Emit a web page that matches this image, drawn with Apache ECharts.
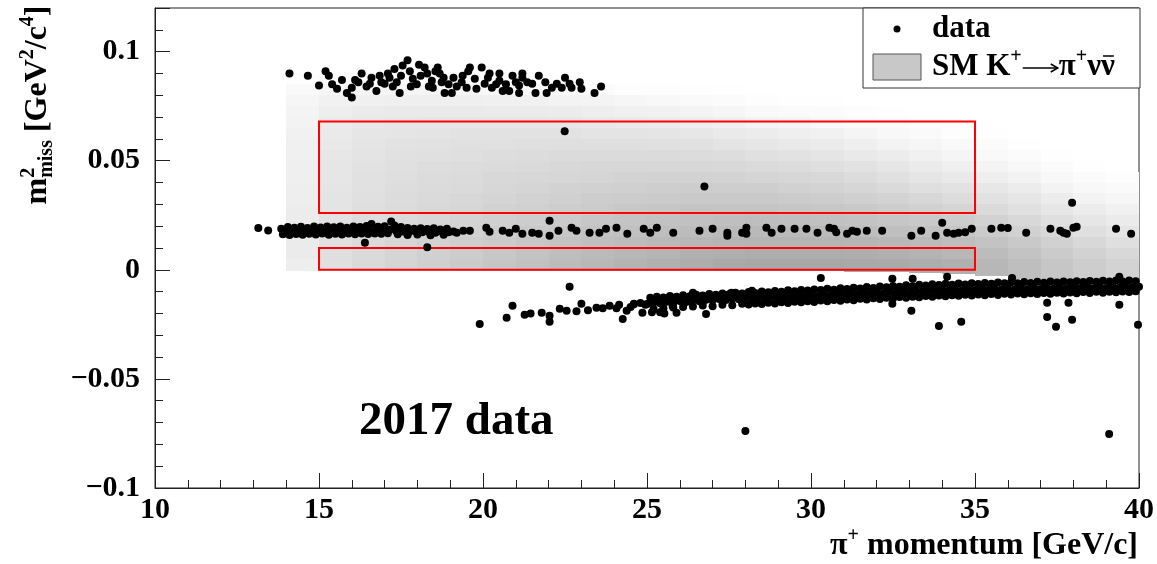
<!DOCTYPE html>
<html>
<head>
<meta charset="utf-8">
<script src="https://cdn.jsdelivr.net/npm/echarts@6/dist/echarts.min.js"></script>
<style>
html,body{margin:0;padding:0;background:#fff;}
#chart{width:1157px;height:564px;}
</style>
</head>
<body>
<div id="chart"></div>
<script>
// ---------- axis setup ----------
const xRange = [10, 40];
const yRange = [-0.1, 0.12];

// ---------- signal regions (xMin, xMax, yMin, yMax) ----------
const signalRegions = [
  [15, 35, 0.0, 0.010],
  [15, 35, 0.026, 0.068]
];

// ---------- SM K+ -> pi+ nu nubar expectation (2D histogram) ----------
// 1 GeV/c momentum bins, lower edges
const histXLow = [14,15,16,17,18,19,20,21,22,23,24,25,26,27,28,29,30,31,32,33,34,35,36,37,38,39];
const histBinWidth = 1;
// lower edge of the populated region in each momentum bin
const histYLow = [-0.0005,-0.0005,-0.0005,-0.0005,-0.0005,-0.0005,-0.0005,-0.0005,-0.0005,-0.0005,-0.0005,-0.0005,-0.0005,-0.0005,-0.0005,-0.0005,-0.0005,-0.001,-0.001,-0.0015,-0.002,-0.003,-0.004,-0.004,-0.0045,-0.005];
// m2miss bin centres (bin height 0.005)
const histYCenters = [0.0025,0.0075,0.0125,0.0175,0.0225,0.0275,0.0325,0.0375,0.0425,0.0475,0.0525,0.0575,0.0625,0.0675,0.0725,0.0775,0.0825,0.0875];
const histYBin = 0.005;
// relative density per momentum bin (rows follow histXLow, columns follow histYCenters)
const histShade = [
  [14,16,16,16,15,15,14,14,13,13,12,12,11,10,9,7,5,2],
  [25,26,25,24,23,22,22,21,20,20,19,18,17,16,14,11,7,3],
  [30,30,29,28,27,26,25,24,24,23,22,21,20,18,16,12,8,3],
  [34,34,33,31,30,29,28,27,26,25,24,23,21,19,17,13,8,3],
  [38,38,36,34,32,31,30,29,28,27,25,24,22,20,17,13,8,3],
  [42,41,39,37,35,33,32,30,29,28,26,25,23,20,17,13,7,2],
  [46,45,42,40,38,36,34,32,31,29,27,25,23,20,16,12,6,2],
  [50,48,45,43,40,38,36,34,32,30,28,26,23,20,16,11,5,1],
  [54,52,48,45,42,40,38,36,33,31,29,26,23,19,15,10,4,1],
  [57,55,51,48,45,42,40,37,34,32,29,26,22,18,14,9,3,0],
  [60,58,54,50,47,44,41,38,35,32,29,26,22,17,12,7,2,0],
  [63,60,56,52,49,46,42,39,36,32,29,25,21,16,11,6,2,0],
  [66,63,58,54,50,47,43,40,36,32,28,24,19,14,9,4,1,0],
  [68,64,59,55,51,47,43,39,35,31,27,22,17,12,7,3,1,0],
  [70,66,60,56,52,47,43,39,34,30,25,20,15,10,5,2,0,0],
  [70,66,60,55,51,46,42,37,33,28,23,18,13,8,4,1,0,0],
  [70,66,60,55,50,45,40,35,31,26,21,16,11,6,3,1,0,0],
  [69,65,59,53,48,43,38,33,28,23,18,13,8,4,2,0,0,0],
  [68,63,57,51,46,40,35,30,25,20,15,10,6,3,1,0,0,0],
  [66,61,55,49,43,37,32,26,21,16,11,7,4,2,0,0,0,0],
  [63,58,52,46,40,34,28,23,18,13,8,5,2,1,0,0,0,0],
  [58,54,48,42,36,30,24,19,14,9,5,3,1,0,0,0,0,0],
  [52,48,43,37,31,25,20,15,10,6,3,1,0,0,0,0,0,0],
  [46,42,37,31,26,20,15,10,6,3,1,0,0,0,0,0,0,0],
  [40,36,31,26,20,15,10,6,3,1,0,0,0,0,0,0,0,0],
  [35,31,26,21,16,11,7,4,2,0,0,0,0,0,0,0,0,0]
];

// ---------- data events: [pi+ momentum (GeV/c), m2miss (GeV^2/c^4)] ----------
// K+ -> pi+ pi+ pi- region
const dataK3pi = [
  [14.1,0.090],[14.66,0.089],[15.0,0.0845],[15.2,0.091],[15.3,0.089],[15.4,0.085],[15.55,0.083],[15.7,0.087],
  [15.85,0.081],[16.0,0.079],[16.0,0.0835],[16.1,0.087],[16.2,0.086],[16.3,0.090],[16.45,0.084],[16.55,0.0853],
  [16.6,0.088],[16.75,0.082],[16.85,0.089],[16.9,0.086],[17.0,0.0853],[17.1,0.090],[17.15,0.088],[17.25,0.084],
  [17.3,0.092],[17.37,0.086],[17.46,0.081],[17.5,0.089],[17.55,0.0936],[17.7,0.096],[17.77,0.091],[17.8,0.084],
  [17.86,0.0876],[17.98,0.085],[18.05,0.094],[18.1,0.089],[18.22,0.0927],[18.3,0.090],[18.35,0.084],[18.44,0.0867],
  [18.47,0.0835],[18.55,0.091],[18.62,0.0927],[18.68,0.090],[18.74,0.086],[18.8,0.088],[18.83,0.081],[18.95,0.085],
  [19.05,0.081],[19.1,0.088],[19.2,0.084],[19.35,0.086],[19.38,0.089],[19.5,0.0835],[19.55,0.091],[19.6,0.0927],
  [19.75,0.0876],[19.8,0.083],[19.96,0.0927],[20.05,0.0853],[20.15,0.088],[20.2,0.090],[20.27,0.0835],[20.4,0.085],
  [20.5,0.0867],[20.5,0.090],[20.6,0.082],[20.7,0.085],[20.8,0.082],[20.9,0.089],[21.0,0.086],[21.1,0.081],
  [21.1,0.0845],[21.2,0.088],[21.2,0.090],[21.35,0.086],[21.5,0.0853],[21.6,0.081],[21.7,0.089],[21.9,0.086],
  [21.94,0.081],[22.1,0.0835],[22.25,0.0853],[22.4,0.0835],[22.5,0.088],[22.64,0.0853],[22.7,0.0835],[22.95,0.086],
  [23.0,0.083],[23.4,0.081],[23.6,0.084]
];

// K+ -> pi+ pi0 band
const dataK2pi = [
  [13.15,0.0192],[13.45,0.0180],
  [13.85,0.0188],[14.05,0.0196],[14.25,0.0193],[14.45,0.0197],[14.65,0.0192],[14.85,0.0198],[15.05,0.0194],[15.25,0.0199],
  [15.45,0.0195],[15.65,0.0198],[15.85,0.0193],[16.05,0.0199],[16.25,0.0196],[16.45,0.0201],[16.6,0.0210],[16.8,0.0197],
  [17.0,0.0200],[17.2,0.0222],[17.3,0.0203],[17.5,0.0196],[17.7,0.0192],[17.9,0.0188],[18.1,0.0191],[18.3,0.0187],
  [18.5,0.0190],[18.7,0.0185],[18.9,0.0188],
  [13.95,0.0178],[14.15,0.0176],[14.35,0.0180],[14.55,0.0177],[14.75,0.0181],[14.95,0.0178],[15.15,0.0182],[15.35,0.0177],
  [15.55,0.0181],[15.75,0.0178],[15.95,0.0183],[16.15,0.0179],[16.35,0.0182],[16.55,0.0178],[16.75,0.0183],[16.95,0.0180],
  [17.15,0.0184],[17.35,0.0178],[17.55,0.0176],[17.75,0.0173],[17.95,0.0176],[18.15,0.0172],[18.35,0.0175],[18.55,0.0170],
  [18.75,0.0174],[18.95,0.0172],[19.1,0.0176],
  [13.9,0.0163],[14.1,0.0160],[14.3,0.0164],[14.5,0.0161],[14.7,0.0165],[14.9,0.0162],[15.1,0.0166],[15.3,0.0161],
  [15.5,0.0165],[15.7,0.0162],[15.9,0.0166],[16.1,0.0163],[16.3,0.0167],[16.5,0.0164],[16.7,0.0167],[16.9,0.0165],
  [17.1,0.0168],[17.4,0.0163],[17.7,0.0160],[18.0,0.0162],[18.4,0.0159],[18.8,0.0161],
  [16.4,0.0124],[18.3,0.0104],
  [19.2,0.0170],[19.4,0.0179],[19.6,0.0179],[20.1,0.0193],[20.2,0.0175],[20.6,0.0179],[20.8,0.0170],[21.0,0.0188],
  [21.2,0.0165],[21.5,0.0170],[21.7,0.0165],[22.03,0.0225],[22.03,0.0156],[22.3,0.0179],[22.7,0.0193],[22.85,0.0179],
  [23.25,0.0170],[23.55,0.0170],[23.75,0.0188],[24.07,0.0193],[24.4,0.0165],[24.9,0.0188],[25.1,0.0170],[25.3,0.0193],
  [25.8,0.0170],[26.6,0.0179],[27.0,0.0188],[27.45,0.0170],[27.45,0.0156],[27.9,0.0170],[28.03,0.0193],[28.03,0.0165],
  [28.64,0.0193],[28.8,0.0170],[29.1,0.0188],[29.5,0.0188],[29.86,0.0188],[30.2,0.0170],[30.56,0.0193],[30.7,0.0188],
  [30.77,0.0172],[31.1,0.0165],[31.26,0.0179],[31.4,0.0175],[31.7,0.0179],[32.17,0.0179],[33.06,0.0156],[33.36,0.0179],
  [33.8,0.0156],[34.0,0.0216],[34.15,0.0170],[34.35,0.0165],[34.5,0.0170],[34.7,0.0172],[34.9,0.0188],[35.5,0.0188],
  [35.8,0.0193],[36.0,0.0192],[36.56,0.0170],[37.3,0.0188],[37.6,0.0179],[37.7,0.0170],[37.8,0.0165],[38.0,0.0193],
  [38.1,0.0197],[37.96,0.0307],[39.3,0.0188],[39.76,0.0165]
];

// K+ -> mu+ nu band: scattered low-momentum part and dense core
const dataKmu2Tail = [
  [19.9,-0.0248],[20.72,-0.022],[20.9,-0.0165],[21.27,-0.0206],[21.45,-0.0200],[21.79,-0.0197],[22.03,-0.021],[22.03,-0.0238],
  [22.34,-0.0179],[22.55,-0.0188],[22.64,-0.0078],[22.85,-0.0190],[23.0,-0.0156],[23.2,-0.0185],[23.46,-0.0174],[23.65,-0.0176],
  [23.86,-0.0165],[24.07,-0.0176],[24.15,-0.0160],[24.26,-0.0225],[24.38,-0.0188],[24.5,-0.0170],[24.6,-0.0156],[24.86,-0.0197],
  [24.95,-0.0160],[25.1,-0.0151],[25.15,-0.0195],[25.4,-0.0195],[25.53,-0.0200],[25.7,-0.0128],[25.9,-0.0197],[26.3,-0.0142],
  [26.4,-0.0105],[26.8,-0.0202],[27.57,-0.0105],[28.2,-0.0096],[25.78,-0.0165],
  [30.3,-0.0037],[32.48,-0.0041],[33.1,-0.0041],[34.15,-0.0032],[36.13,-0.0037],[39.4,-0.0032],
  [32.48,-0.0156],[33.06,-0.0188],[33.9,-0.0257],[34.58,-0.0238],[37.2,-0.0216],[37.47,-0.0261],[37.96,-0.0229],
  [39.4,-0.0160],[39.97,-0.0252],[37.2,-0.0151],[37.85,-0.0151]
];
const dataKmu2Mid = [
  [24.6,-0.0158],[24.8,-0.0152],[25.0,-0.0157],[25.2,-0.0150],[25.4,-0.0153],[25.6,-0.0146],[25.8,-0.0150],[26.0,-0.0143],
  [26.2,-0.0147],[26.4,-0.0140],[26.6,-0.0144],[26.8,-0.0137],[27.0,-0.0140],[27.2,-0.0134],[27.4,-0.0138],[27.6,-0.0131],
  [27.8,-0.0135],[28.0,-0.0128],[28.2,-0.0132],[28.4,-0.0126],[28.6,-0.0130],[28.8,-0.0123],[29.0,-0.0127],[29.2,-0.0121],
  [29.4,-0.0125],[29.6,-0.0119],[29.8,-0.0123],[30.0,-0.0117],[30.2,-0.0121],[30.4,-0.0115],[30.6,-0.0118],[30.8,-0.0111],
  [31.0,-0.0115],[31.2,-0.0109],[31.4,-0.0113],[31.6,-0.0106],[31.8,-0.0110],[32.0,-0.0104],[32.2,-0.0108],[32.4,-0.0101],
  [32.6,-0.0105],[32.8,-0.0098],[33.0,-0.0102],[33.2,-0.0096],[33.4,-0.0099],[33.6,-0.0093],[33.8,-0.0097],[34.0,-0.0092],
  [34.2,-0.0096],[34.4,-0.0091],[34.6,-0.0095],[34.8,-0.0090],[35.0,-0.0094],[35.2,-0.0089],[35.4,-0.0092],[35.6,-0.0087],
  [35.8,-0.0091],[36.0,-0.0086],[36.2,-0.0090],[36.4,-0.0085],[36.6,-0.0089],[36.8,-0.0084],[37.0,-0.0088],[37.2,-0.0083],
  [37.4,-0.0087],[37.6,-0.0082],[37.8,-0.0086],[38.0,-0.0081],[38.2,-0.0085],[38.4,-0.0080],[38.6,-0.0084],[38.8,-0.0079],
  [39.0,-0.0083],[39.2,-0.0078],[39.4,-0.0082],[39.6,-0.0077],[39.8,-0.0081],[40.0,-0.0078]
];
const dataKmu2High = [
  [25.1,-0.0128],[25.3,-0.0124],[25.5,-0.0127],[25.7,-0.0120],[25.9,-0.0123],[26.1,-0.0117],[26.3,-0.0121],[26.5,-0.0114],
  [26.7,-0.0118],[26.9,-0.0111],[27.1,-0.0114],[27.3,-0.0108],[27.5,-0.0112],[27.7,-0.0105],[27.9,-0.0108],[28.1,-0.0102],
  [28.3,-0.0106],[28.5,-0.0099],[28.7,-0.0103],[28.9,-0.0097],[29.1,-0.0100],[29.3,-0.0094],[29.5,-0.0098],[29.7,-0.0092],
  [29.9,-0.0095],[30.1,-0.0090],[30.3,-0.0093],[30.5,-0.0087],[30.7,-0.0091],[30.9,-0.0085],[31.1,-0.0088],[31.3,-0.0082],
  [31.5,-0.0086],[31.7,-0.0079],[31.9,-0.0083],[32.1,-0.0077],[32.3,-0.0080],[32.5,-0.0074],[32.7,-0.0078],[32.9,-0.0071],
  [33.1,-0.0075],[33.3,-0.0069],[33.5,-0.0072],[33.7,-0.0066],[33.9,-0.0070],[34.1,-0.0064],[34.3,-0.0068],[34.5,-0.0063],
  [34.7,-0.0067],[34.9,-0.0061],[35.1,-0.0065],[35.3,-0.0060],[35.5,-0.0064],[35.7,-0.0058],[35.9,-0.0062],[36.1,-0.0057],
  [36.3,-0.0061],[36.5,-0.0056],[36.7,-0.0060],[36.9,-0.0055],[37.1,-0.0059],[37.3,-0.0054],[37.5,-0.0058],[37.7,-0.0053],
  [37.9,-0.0057],[38.1,-0.0052],[38.3,-0.0056],[38.5,-0.0051],[38.7,-0.0055],[38.9,-0.0050],[39.1,-0.0054],[39.3,-0.0049],
  [39.5,-0.0053],[39.7,-0.0049],[39.9,-0.0052]
];
const dataKmu2Low = [
  [25.2,-0.0180],[25.5,-0.0176],[25.8,-0.0173],[26.1,-0.0170],[26.4,-0.0168],[26.7,-0.0164],[27.0,-0.0167],[27.3,-0.0160],
  [27.6,-0.0162],[27.9,-0.0156],[28.1,-0.0159],[28.3,-0.0154],[28.5,-0.0157],[28.7,-0.0151],[28.9,-0.0154],[29.1,-0.0149],
  [29.3,-0.0152],[29.5,-0.0146],[29.7,-0.0149],[29.9,-0.0144],[30.1,-0.0147],[30.3,-0.0141],[30.5,-0.0144],[30.7,-0.0138],
  [30.9,-0.0142],[31.1,-0.0136],[31.3,-0.0139],[31.5,-0.0133],[31.7,-0.0136],[31.9,-0.0130],[32.1,-0.0134],[32.3,-0.0128],
  [32.5,-0.0131],[32.7,-0.0125],[32.9,-0.0128],[33.1,-0.0123],[33.3,-0.0126],[33.5,-0.0120],[33.7,-0.0123],[33.9,-0.0118],
  [34.1,-0.0121],[34.3,-0.0116],[34.5,-0.0119],[34.7,-0.0114],[34.9,-0.0118],[35.1,-0.0113],[35.3,-0.0116],[35.5,-0.0111],
  [35.7,-0.0115],[35.9,-0.0110],[36.1,-0.0113],[36.3,-0.0108],[36.5,-0.0112],[36.7,-0.0107],[36.9,-0.0111],[37.1,-0.0106],
  [37.3,-0.0110],[37.5,-0.0105],[37.7,-0.0109],[37.9,-0.0104],[38.1,-0.0107],[38.3,-0.0102],[38.5,-0.0106],[38.7,-0.0101],
  [38.9,-0.0105],[39.1,-0.0100],[39.3,-0.0103],[39.5,-0.0099],[39.7,-0.0102],[39.9,-0.0098]
];
// isolated events
const dataIsolated = [[22.49,0.0635],[26.75,0.0382],[28.0,-0.0739],[39.09,-0.0752]];

// ---------- drawing ----------
const SERIF = '"Liberation Serif", "Times New Roman", serif';
const chart = echarts.init(document.getElementById('chart'), null, {renderer: 'canvas'});

function shadeColor(d) {
  const g = Math.round(255 - d * 1.25);
  return 'rgb(' + g + ',' + g + ',' + g + ')';
}

const histData = histXLow.map((x, i) => [x, x + histBinWidth, histYLow[i], i]);
const allEvents = [].concat(dataK3pi, dataK2pi, dataKmu2Tail, dataKmu2Mid, dataKmu2High, dataKmu2Low, dataIsolated);

// text width helper for the hand-built titles and legend
const mctx = document.createElement('canvas').getContext('2d');
function tw(t, f) { mctx.font = f; return mctx.measureText(t).width; }

// pieces laid out along a baseline; a piece with w is an empty gap
function layoutPieces(pieces) {
  let x = 0;
  const out = [];
  pieces.forEach(p => {
    if (p.w) {
      out.push({t: '', f: '', x: x, y: 0, gap: true});
      x += p.w;
    } else if (p.stackWithPrev) {
      const prev = out[out.length - 1];
      out.push({t: p.t, f: p.f, x: prev.x, y: p.dy});
      x = Math.max(x, prev.x + tw(p.t, p.f));
    } else {
      out.push({t: p.t, f: p.f, x: x, y: p.dy});
      x += tw(p.t, p.f);
    }
  });
  out.total = x;
  return out;
}

const FT = 'bold 32px ' + SERIF;
const FTS = 'bold 20px ' + SERIF;
const yTitle = layoutPieces([
  {t: 'm', f: FT, dy: 0},
  {t: '2', f: FTS, dy: -9},
  {t: 'miss', f: FTS, dy: 9, stackWithPrev: true},
  {t: ' [GeV', f: FT, dy: 0},
  {t: '2', f: FTS, dy: -10},
  {t: '/c', f: FT, dy: 0},
  {t: '4', f: FTS, dy: -10},
  {t: ']', f: FT, dy: 0}
]);
const xTitle = layoutPieces([
  {t: '\u03c0', f: FT, dy: 0},
  {t: '+', f: FTS, dy: -10},
  {t: ' momentum [GeV/c]', f: FT, dy: 0}
]);

const FL = 'bold 31px ' + SERIF;
const FLS = 'bold 20px ' + SERIF;
const legendLine = layoutPieces([
  {t: 'SM K', f: FL, dy: 0},
  {t: '+', f: FLS, dy: -10},
  {w: 37},                                  // arrow
  {t: '\u03c0', f: FL, dy: 0},
  {t: '+', f: FLS, dy: -10},
  {t: '\u03bd', f: FL, dy: 0},
  {t: '\u03bd', f: FL, dy: 0}
]);

function textEls(parts, ox, oy) {
  return parts.filter(p => !p.gap).map(p => ({
    type: 'text', x: ox + p.x, y: oy + p.y,
    style: {text: p.t, font: p.f, fill: '#000', align: 'left', verticalAlign: 'middle'}
  }));
}

const axisColor = '#222';
const fmtY = v => {
  const r = parseFloat(v.toFixed(4));
  if (r === 0) return '0';
  return (r < 0 ? '\u2212' : '') + Math.abs(r);
};

// legend geometry
const LX = 932, LY2 = 67;
const arrowStart = LX + legendLine[2].x + 1;
const arrowEnd = LX + legendLine[3].x - 1;
const nubarX0 = LX + legendLine[6].x + 2;
const nubarX1 = LX + legendLine.total - 1;

const option = {
  animation: false,
  backgroundColor: '#fff',
  grid: {left: 155, right: 17, top: 8, bottom: 76, show: true, borderColor: axisColor, borderWidth: 1, backgroundColor: 'transparent'},
  xAxis: {
    type: 'value', min: xRange[0], max: xRange[1], interval: 5,
    axisLine: {show: true, onZero: false, lineStyle: {color: axisColor, width: 1}},
    axisTick: {show: true, inside: true, length: 15, lineStyle: {color: axisColor}},
    minorTick: {show: true, splitNumber: 5, length: 8, lineStyle: {color: axisColor}},
    splitLine: {show: false},
    axisLabel: {fontFamily: SERIF, fontWeight: 'bold', fontSize: 30, color: '#000', margin: 7}
  },
  yAxis: {
    type: 'value', min: yRange[0], max: yRange[1], interval: 0.05,
    axisLine: {show: true, onZero: false, lineStyle: {color: axisColor, width: 1}},
    axisTick: {show: true, inside: true, length: 15, lineStyle: {color: axisColor}},
    minorTick: {show: true, splitNumber: 5, length: 8, lineStyle: {color: axisColor}},
    splitLine: {show: false},
    axisLabel: {fontFamily: SERIF, fontWeight: 'bold', fontSize: 30, color: '#000', margin: 15, showMaxLabel: false, formatter: fmtY}
  },
  series: [
    {
      name: 'SM',
      type: 'custom',
      z: 1,
      encode: {x: [0, 1], y: 2},
      data: histData,
      renderItem: function (params, api) {
        const i = api.value(3);
        const x0 = api.value(0), x1 = api.value(1), yLow = api.value(2);
        const col = histShade[i];
        const children = [];
        for (let j = 0; j < col.length; j++) {
          if (col[j] <= 0) continue;
          const yb = j === 0 ? yLow : histYCenters[j] - histYBin / 2;
          const yt = histYCenters[j] + histYBin / 2;
          const a = api.coord([x0, yt]);
          const b = api.coord([x1, yb]);
          const top = Math.round(a[1]), bottom = Math.round(b[1]);
          const left = Math.round(a[0]), right = Math.round(b[0]);
          children.push({
            type: 'rect',
            shape: {x: left, y: top, width: right - left, height: bottom - top},
            style: {fill: shadeColor(col[j]), stroke: null}
          });
        }
        return {type: 'group', children: children};
      }
    },
    {
      name: 'regions',
      type: 'custom',
      z: 2,
      encode: {x: [0, 1], y: [2, 3]},
      data: signalRegions,
      renderItem: function (params, api) {
        const a = api.coord([api.value(0), api.value(3)]);
        const b = api.coord([api.value(1), api.value(2)]);
        return {
          type: 'rect',
          shape: {x: a[0], y: a[1], width: b[0] - a[0], height: b[1] - a[1]},
          style: {fill: 'none', stroke: '#ff0000', lineWidth: 2}
        };
      }
    },
    {
      name: 'data',
      type: 'scatter',
      z: 3,
      symbol: 'circle',
      symbolSize: 8,
      itemStyle: {color: '#000', opacity: 1},
      data: allEvents
    }
  ],
  graphic: [
    // y-axis title, rotated to read upwards
    {
      type: 'group',
      x: 38, y: 105 + yTitle.total / 2,
      rotation: Math.PI / 2,
      children: textEls(yTitle, 0, 0)
    },
    // x-axis title
    {
      type: 'group',
      x: 1138 - xTitle.total, y: 546,
      children: textEls(xTitle, 0, 0)
    },
    // legend
    {
      type: 'group', z: 10,
      children: [
        {type: 'rect', shape: {x: 863, y: 8, width: 277, height: 80}, style: {fill: '#fff', stroke: '#333', lineWidth: 1}},
        {type: 'circle', shape: {cx: 897, cy: 29, r: 3.5}, style: {fill: '#000'}},
        {type: 'text', x: LX, y: 29, style: {text: 'data', font: FL, fill: '#000', verticalAlign: 'middle'}},
        {type: 'rect', shape: {x: 873, y: 54, width: 48, height: 26}, style: {fill: '#c8c8c8', stroke: '#555', lineWidth: 1}}
      ].concat(textEls(legendLine, LX, LY2)).concat([
        {type: 'line', shape: {x1: arrowStart, y1: LY2 + 1, x2: arrowEnd, y2: LY2 + 1}, style: {stroke: '#000', lineWidth: 1.5}},
        {type: 'polyline', shape: {points: [[arrowEnd - 7, LY2 - 3], [arrowEnd, LY2 + 1], [arrowEnd - 7, LY2 + 5]]}, style: {stroke: '#000', lineWidth: 1.5, fill: 'none'}},
        {type: 'line', shape: {x1: nubarX0, y1: LY2 - 11, x2: nubarX1, y2: LY2 - 11}, style: {stroke: '#000', lineWidth: 1.5}}
      ])
    },
    // run label
    {
      type: 'text', left: 359, top: 398, z: 10,
      style: {text: '2017 data', font: 'bold 47px ' + SERIF, fill: '#000'}
    }
  ]
};

chart.setOption(option);
</script>
</body>
</html>
